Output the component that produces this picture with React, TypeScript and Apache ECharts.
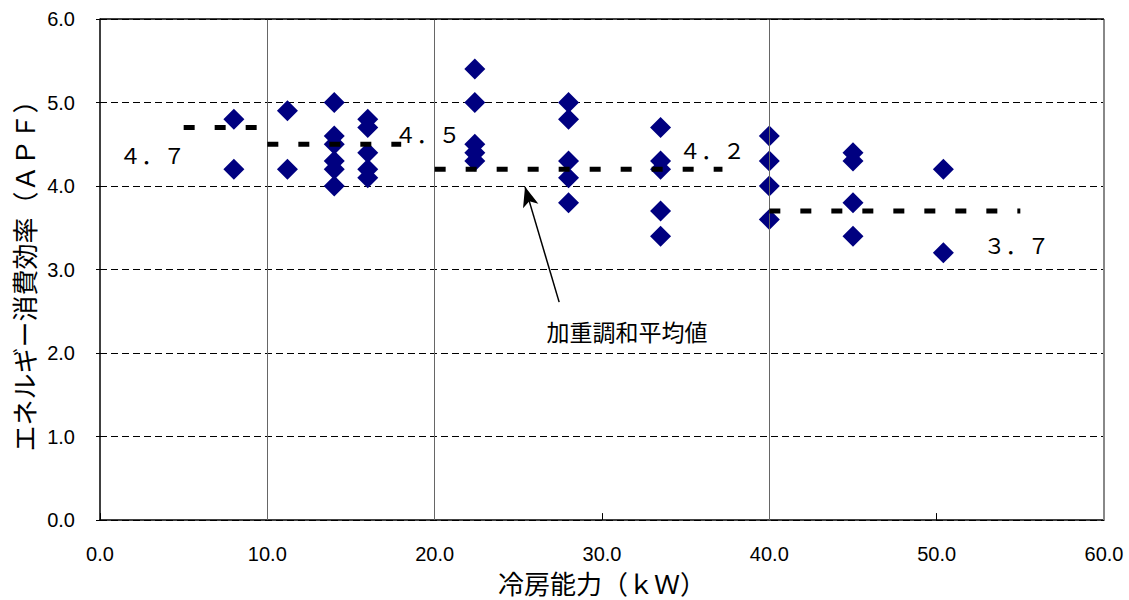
import React, { useEffect, useRef } from "react";
import * as echarts from "echarts";

// Cooling capacity groups (kW) and the APF values measured in each group
const capacityKW = [8.0, 11.2, 14.0, 16.0, 22.4, 28.0, 33.5, 40.0, 45.0, 50.4];
const apfValues = [
  [4.8, 4.2],
  [4.9, 4.2],
  [5.0, 4.6, 4.5, 4.3, 4.2, 4.0],
  [4.8, 4.7, 4.4, 4.2, 4.1],
  [5.4, 5.0, 4.5, 4.4, 4.3],
  [5.0, 4.8, 4.3, 4.1, 3.8],
  [4.7, 4.3, 4.2, 3.7, 3.4],
  [4.6, 4.3, 4.0, 3.6],
  [4.4, 4.3, 3.8, 3.4],
  [4.2, 3.2],
];

// Weighted harmonic means per capacity band
const avgLevels = [4.7, 4.5, 4.2, 3.7];
const avgStartKW = [5.0, 10.0, 20.0, 40.0];
const avgEndKW = [9.4, 18.0, 37.2, 55.0];

// Band dividers (kW)
const bandDividers = [10, 20, 40];

const xTickLabels = ["0.0", "10.0", "20.0", "30.0", "40.0", "50.0", "60.0"];
const yTickLabels = ["0.0", "1.0", "2.0", "3.0", "4.0", "5.0", "6.0"];

const xTitle = "冷房能力（ｋＷ）";
const yTitle = "エネルギー消費効率（ＡＰＦ）";
const noteText = "加重調和平均値";

// Annotation anchors, in data coordinates
const avgLabelAnchors = [
  [1.15, 4.38],
  [17.6, 4.63],
  [34.6, 4.44],
  [52.8, 3.31],
];
const noteAnchor = [31.5, 2.26];
const arrowFrom = [27.44, 2.61];
const arrowTo = [25.4, 3.99];

const toFullWidth = (s: string) =>
  s.replace(/[0-9.]/g, (c) => String.fromCharCode(c.charCodeAt(0) + 0xfee0));

export default function App() {
  const ref = useRef<HTMLDivElement>(null);

  useEffect(() => {
    if (!ref.current) return;
    const chart = echarts.init(ref.current, null, { renderer: "svg" });

    const points: number[][] = [];
    capacityKW.forEach((x, i) => apfValues[i].forEach((y) => points.push([x, y])));

    const avgSeries = avgLevels.map((lv, i) => ({
      type: "line",
      data: [
        [avgStartKW[i], lv],
        [avgEndKW[i], lv],
      ],
      symbol: "none",
      silent: true,
      z: 5,
      lineStyle: { color: "#000", width: 5, type: [11, 20], cap: "butt" },
    }));

    const labelFont = "'Liberation Sans', Arial, sans-serif";
    const cjkFont = "'Noto Sans CJK JP', sans-serif";

    chart.setOption({
      animation: false,
      backgroundColor: "#fff",
      grid: { left: 100, right: 25, top: 19, bottom: 77, containLabel: false },
      xAxis: {
        type: "value",
        min: 0,
        max: 60,
        interval: 10,
        name: xTitle,
        nameLocation: "middle",
        nameGap: 45,
        nameTextStyle: { fontFamily: cjkFont, fontSize: 26, color: "#000" },
        axisLine: { show: true, onZero: false, lineStyle: { color: "#000", width: 1.5 } },
        axisTick: { show: true, inside: true, length: 7, lineStyle: { color: "#000" } },
        axisLabel: {
          margin: 24,
          fontFamily: labelFont,
          fontSize: 20,
          color: "#000",
          formatter: (v: number) => xTickLabels[Math.round(v / 10)] ?? "",
        },
        splitLine: { show: false },
      },
      yAxis: {
        type: "value",
        min: 0,
        max: 6,
        interval: 1,
        name: yTitle,
        nameLocation: "middle",
        nameGap: 60,
        nameRotate: 90,
        nameTextStyle: { fontFamily: cjkFont, fontSize: 26, color: "#000" },
        axisLine: { show: true, onZero: false, lineStyle: { color: "#000", width: 1.5 } },
        axisTick: { show: true, inside: false, length: 4, lineStyle: { color: "#000" } },
        axisLabel: {
          margin: 25,
          fontFamily: labelFont,
          fontSize: 20,
          color: "#000",
          formatter: (v: number) => yTickLabels[Math.round(v)] ?? "",
        },
        splitLine: { show: true, lineStyle: { color: "#000", width: 1, type: [7, 4] } },
      },
      series: [
        {
          type: "scatter",
          data: points,
          symbol: "diamond",
          symbolSize: 21,
          z: 3,
          itemStyle: { color: "#000080", opacity: 1 },
          markLine: {
            silent: true,
            symbol: "none",
            label: { show: false },
            animation: false,
            data: [
              ...bandDividers.map((v) => ({ xAxis: v, lineStyle: { color: "#666", width: 1, type: "solid" } })),
              { xAxis: 60, lineStyle: { color: "#888", width: 2, type: "solid" } },
              { yAxis: 6, lineStyle: { color: "#000", width: 1.5, type: "solid" } },
            ],
          },
        },
        ...avgSeries,
        {
          type: "line",
          data: [],
          silent: true,
          z: 6,
          markLine: {
            silent: true,
            symbol: ["none", "arrow"],
            symbolSize: [12, 20],
            label: { show: false },
            animation: false,
            lineStyle: { color: "#000", width: 1.5, type: "solid" },
            data: [[{ coord: arrowFrom }, { coord: arrowTo }]],
          },
        },
      ],
    });

    const px = (p: number[]) => chart.convertToPixel({ gridIndex: 0 }, p) as number[];
    const graphics: any[] = avgLevels.map((lv, i) => {
      const [x, y] = px(avgLabelAnchors[i]);
      return {
        type: "text",
        x,
        y,
        z: 10,
        style: {
          text: toFullWidth(lv.toFixed(1)),
          fontFamily: cjkFont,
          fontSize: 22,
          fill: "#000",
          align: "left",
          verticalAlign: "middle",
        },
      };
    });
    const [nx, ny] = px(noteAnchor);
    graphics.push({
      type: "text",
      x: nx,
      y: ny,
      z: 10,
      style: {
        text: noteText,
        fontFamily: cjkFont,
        fontSize: 23,
        fill: "#000",
        align: "center",
        verticalAlign: "middle",
      },
    });
    chart.setOption({ graphic: graphics });

    return () => chart.dispose();
  }, []);

  return (
    <div
      ref={ref}
      style={{ position: "fixed", left: 0, top: 0, width: 1129, height: 600, background: "#fff" }}
    />
  );
}
